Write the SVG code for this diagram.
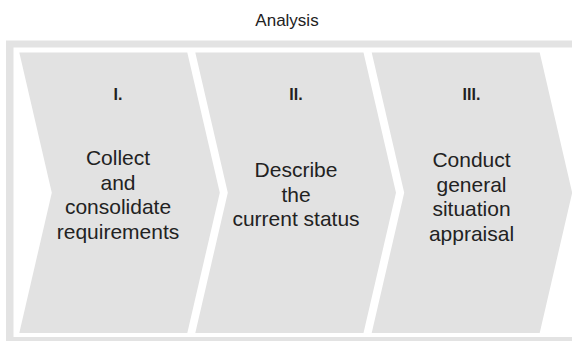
<svg xmlns="http://www.w3.org/2000/svg" width="572" height="341" viewBox="0 0 572 341">
  <style>
    .frame { fill: #e3e3e3; }
    .inner { fill: #ffffff; }
    .chev { fill: #e2e2e2; }
    .title { font-family: "Liberation Sans", Arial, sans-serif; font-size: 17px; fill: #222222; text-anchor: middle; }
    .num { font-family: "Liberation Sans", Arial, sans-serif; font-size: 16px; font-weight: bold; fill: #222222; text-anchor: middle; }
    .body { font-family: "Liberation Sans", Arial, sans-serif; font-size: 21px; fill: #222222; text-anchor: middle; }
  </style>
  <rect width="572" height="341" fill="#ffffff"/>
  <text class="title" x="287" y="26">Analysis</text>
  <g id="frame">
    <rect class="frame" x="6" y="40.5" width="580" height="310"/>
    <rect class="inner" x="13.5" y="47.5" width="570" height="289.5"/>
  </g>
  <g id="step1">
    <polygon class="chev" points="19.3,52.5 187.3,52.5 219.8,192.75 187.3,333 19.3,333 51.8,192.75"/>
    <text class="num" x="118" y="100">I.</text>
    <text class="body" x="118" y="165">Collect</text>
    <text class="body" x="118" y="189.5">and</text>
    <text class="body" x="118" y="214">consolidate</text>
    <text class="body" x="118" y="238.5">requirements</text>
  </g>
  <g id="step2">
    <polygon class="chev" points="195.3,52.5 363.5,52.5 396,192.75 363.5,333 195.3,333 227.8,192.75"/>
    <text class="num" x="296" y="100">II.</text>
    <text class="body" x="296" y="176.7">Describe</text>
    <text class="body" x="296" y="201.5">the</text>
    <text class="body" x="296" y="226.3">current status</text>
  </g>
  <g id="step3">
    <polygon class="chev" points="371.7,52.5 539.7,52.5 572.2,192.75 539.7,333 371.7,333 404.2,192.75"/>
    <text class="num" x="471.5" y="100">III.</text>
    <text class="body" x="471.5" y="167">Conduct</text>
    <text class="body" x="471.5" y="191.5">general</text>
    <text class="body" x="471.5" y="216">situation</text>
    <text class="body" x="471.5" y="240.5">appraisal</text>
  </g>
  <g id="connectors"/>
</svg>
